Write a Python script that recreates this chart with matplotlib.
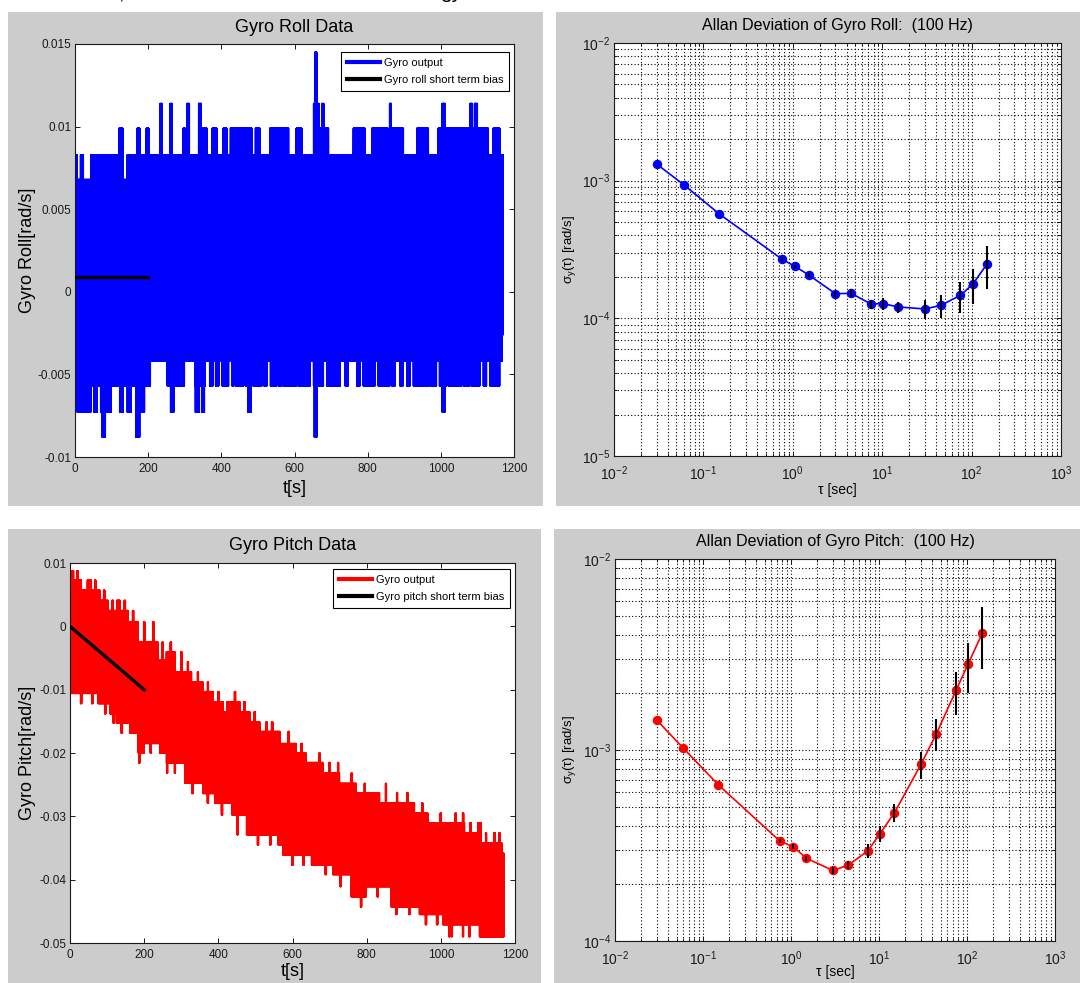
import numpy as np
import matplotlib
matplotlib.use("Agg")
import matplotlib.pyplot as plt
from matplotlib.patches import Rectangle
from matplotlib.ticker import FixedLocator, FuncFormatter, LogLocator, NullFormatter

plt.rcParams["font.family"] = ["Liberation Sans", "DejaVu Sans"]
plt.rcParams["mathtext.fontset"] = "custom"
plt.rcParams["mathtext.rm"] = "Liberation Sans"
plt.rcParams["mathtext.it"] = "Liberation Sans:italic"
plt.rcParams["mathtext.default"] = "regular"

# ---------------------------------------------------------------- data
# Roll rate record: envelope of the quantised samples (rad/s)
roll_t_end = 1170.0
roll_upper_base = 0.0083
roll_lower_base = -0.0042
roll_upper_runs = [
    (6, 15, 0.0068), (23, 44, 0.0068), (120, 131, 0.0099), (131, 143, 0.0068),
    (170, 177, 0.0099), (195, 202, 0.0099), (232, 238, 0.0114), (259, 265, 0.0114),
    (296, 302, 0.0099), (306, 313, 0.0114), (338, 345, 0.0114), (345, 361, 0.0099),
    (375, 388, 0.0099), (405, 415, 0.0099), (425, 484, 0.0099), (493, 506, 0.0099),
    (532, 584, 0.0099), (605, 620, 0.0099), (652, 655, 0.0114), (655, 661, 0.0145),
    (661, 667, 0.0114), (667, 675, 0.0099), (675, 680, 0.0114), (680, 693, 0.0099),
    (761, 793, 0.0099), (811, 856, 0.0099), (860, 865, 0.0114), (865, 898, 0.0099),
    (934, 966, 0.0099), (993, 1003, 0.0099), (1003, 1012, 0.0114), (1012, 1080, 0.0099),
    (1080, 1086, 0.0114), (1086, 1092, 0.0099), (1092, 1100, 0.0114), (1100, 1130, 0.0099),
    (1143, 1161, 0.0099),
]
roll_lower_runs = [
    (0, 206, -0.0057), (6, 43, -0.0073), (52, 61, -0.0073), (70, 99, -0.0073),
    (74, 83, -0.0088), (122, 132, -0.0073), (143, 153, -0.0073), (166, 177, -0.0088),
    (181, 190, -0.0073),
    (252, 261, -0.0057), (261, 270, -0.0073), (275, 299, -0.0057), (327, 338, -0.0057),
    (329, 340, -0.0073), (341, 356, -0.0057), (347, 354, -0.0073), (368, 377, -0.0057),
    (384, 393, -0.0057), (402, 420, -0.0057), (429, 434, -0.0057), (438, 461, -0.0057),
    (466, 484, -0.0057), (473, 481, -0.0073), (488, 511, -0.0057), (516, 525, -0.0057),
    (534, 552, -0.0057), (556, 566, -0.0057), (570, 607, -0.0057), (611, 643, -0.0057),
    (652, 663, -0.0057), (654, 661, -0.0088), (666, 679, -0.0057), (688, 725, -0.0057),
    (738, 747, -0.0057), (770, 779, -0.0057), (788, 820, -0.0057), (829, 861, -0.0057),
    (866, 875, -0.0057), (888, 897, -0.0057), (907, 916, -0.0057), (925, 966, -0.0057),
    (970, 988, -0.0057), (996, 1016, -0.0057), (1004, 1011, -0.0073), (1020, 1057, -0.0057),
    (1061, 1080, -0.0057), (1084, 1107, -0.0057), (1116, 1125, -0.0057), (1134, 1161, -0.0057),
    (1168, 1170, -0.0026),
]
roll_bias_t = [0, 200]
roll_bias = [0.0009, 0.0009]

# Pitch rate record: envelope as level runs plus isolated excursions (rad/s)
pitch_t_end = 1170.0
pitch_upper_runs = [
    (0, 10, 0.0088), (10, 31, 0.0073), (31, 47, 0.0057), (47, 58, 0.0073), (58, 81, 0.0057),
    (81, 103, 0.0041), (103, 126, 0.0025), (126, 135, 0.0041), (135, 157, 0.0025),
    (157, 184, 0.0007), (184, 238, -0.0025), (238, 260, -0.0053), (260, 283, -0.0040),
    (283, 328, -0.0072), (328, 359, -0.0088), (359, 386, -0.0103), (386, 413, -0.0119),
    (413, 431, -0.0135), (431, 458, -0.0119), (458, 485, -0.0135), (485, 512, -0.0151),
    (512, 566, -0.0166), (566, 610, -0.0185), (610, 637, -0.0200), (637, 682, -0.0215),
    (682, 727, -0.0232), (727, 772, -0.0248), (772, 835, -0.0263), (835, 929, -0.0279),
    (929, 965, -0.0295), (965, 1064, -0.0310), (1064, 1100, -0.0326), (1100, 1109, -0.0310),
    (1109, 1165, -0.0342), (1165, 1170, -0.0358),
]
pitch_lower_runs = [
    (0, 76, -0.0106), (76, 107, -0.0122), (107, 125, -0.0138), (125, 161, -0.0153),
    (161, 184, -0.0169), (184, 200, -0.0200), (200, 242, -0.0185), (242, 260, -0.0200),
    (260, 310, -0.0216), (310, 359, -0.0248), (359, 390, -0.0264), (390, 437, -0.0279),
    (437, 476, -0.0298), (476, 520, -0.0329), (520, 561, -0.0329), (561, 574, -0.0345),
    (574, 651, -0.0361), (651, 709, -0.0377), (709, 758, -0.0392), (758, 799, -0.0427),
    (799, 866, -0.0411), (866, 942, -0.0443), (942, 1005, -0.0455), (1005, 1104, -0.0471),
    (1104, 1170, -0.0490),
]
pitch_upper_spikes = [
    (20, 0.0088), (68, 0.0073), (92, 0.0057), (115, 0.0041), (148, 0.0041), (170, 0.0025),
    (200, 0.0007), (225, 0.0007), (250, -0.0025), (272, -0.0025), (300, -0.0040),
    (318, -0.0056), (345, -0.0072), (372, -0.0088), (400, -0.0103), (425, -0.0119),
    (445, -0.0103), (470, -0.0119), (498, -0.0135), (530, -0.0151), (545, -0.0151),
    (590, -0.0166), (625, -0.0185), (673, -0.0200), (700, -0.0215), (723, -0.0215),
    (760, -0.0232), (795, -0.0248), (852, -0.0248), (882, -0.0263), (910, -0.0263),
    (950, -0.0279), (1000, -0.0295), (1040, -0.0295), (1060, -0.0295), (1080, -0.0310),
    (1122, -0.0326), (1145, -0.0326), (1158, -0.0326),
]
pitch_lower_spikes = [
    (30, -0.0122), (60, -0.0122), (95, -0.0138), (118, -0.0153), (140, -0.0169),
    (187, -0.0216), (218, -0.0200), (262, -0.0232), (283, -0.0232), (330, -0.0264),
    (372, -0.0279), (410, -0.0298), (452, -0.0329), (507, -0.0345), (540, -0.0345),
    (600, -0.0377), (630, -0.0377), (690, -0.0392), (730, -0.0411), (785, -0.0443),
    (830, -0.0427), (880, -0.0455), (915, -0.0455), (960, -0.0471), (990, -0.0471),
    (1023, -0.0490), (1030, -0.0490), (1060, -0.0490), (1077, -0.0490),
]
pitch_bias_t = [0, 200]
pitch_bias = [0.0, -0.010]

# Allan deviation results
tau = [0.03, 0.06, 0.15, 0.75, 1.05, 1.5, 3, 4.5, 7.5, 10.2, 15, 30, 45, 75, 103, 150]
roll_adev = [1.32e-3, 9.37e-4, 5.74e-4, 2.70e-4, 2.39e-4, 2.07e-4, 1.51e-4, 1.52e-4,
             1.27e-4, 1.28e-4, 1.21e-4, 1.17e-4, 1.24e-4, 1.47e-4, 1.77e-4, 2.50e-4]
roll_err = [0, 0, 0, 0.07e-4, 0.07e-4, 0.07e-4, 0.08e-4, 0.10e-4,
            0.10e-4, 0.13e-4, 0.11e-4, 0.18e-4, 0.23e-4, 0.37e-4, 0.50e-4, 0.88e-4]
pitch_adev = [1.43e-3, 1.02e-3, 6.56e-4, 3.33e-4, 3.12e-4, 2.71e-4, 2.34e-4, 2.50e-4,
              2.97e-4, 3.63e-4, 4.70e-4, 8.41e-4, 1.22e-3, 2.05e-3, 2.82e-3, 4.11e-3]
pitch_err = [0, 0, 0, 0.08e-4, 0.09e-4, 0.09e-4, 0.11e-4, 0.13e-4,
             0.26e-4, 0.35e-4, 0.52e-4, 1.35e-4, 2.3e-4, 5.2e-4, 8.2e-4, 14.7e-4]

# ---------------------------------------------------------------- layout
W, H = 1080, 983
fig = plt.figure(figsize=(W / 100, H / 100), dpi=100)
fig.patch.set_facecolor("white")


def px_rect(x0, y0, x1, y1):
    """Pixel box (origin top-left) -> figure fraction [left, bottom, width, height]."""
    return [x0 / W, 1 - y1 / H, (x1 - x0) / W, (y1 - y0) / H]


for box in [(8, 12, 543, 506), (556, 12, 1080, 506), (8, 529, 541, 983), (554, 529, 1080, 983)]:
    l, b, w, h = px_rect(*box)
    fig.add_artist(Rectangle((l, b), w, h, transform=fig.transFigure,
                             facecolor="#cccccc", edgecolor="none", zorder=-5))

# descenders of the caption line above the figure
fig.text(121 / W, 1 + 1.5 / H, ",", fontsize=15, va="baseline", ha="center")
fig.text(451 / W, 1 + 1.5 / H, "gy", fontsize=15, va="baseline", ha="center")

ax_roll = fig.add_axes(px_rect(75, 44, 514, 457))
ax_aroll = fig.add_axes(px_rect(614, 43, 1061, 456))
ax_pitch = fig.add_axes(px_rect(70, 563, 515, 943))
ax_apitch = fig.add_axes(px_rect(615, 559, 1055, 941))

INK = "#1a1a1a"


def frame(ax):
    ax.set_facecolor("white")
    for s in ax.spines.values():
        s.set_color(INK)
        s.set_linewidth(0.8)
    ax.tick_params(which="both", direction="in", top=True, right=True,
                   color=INK, labelcolor=INK, width=0.7)
    ax.tick_params(which="major", length=3.6)
    ax.tick_params(which="minor", length=2.2)


def gformat(v, pos):
    s = "%g" % v
    return "0" if s in ("-0", "0") else s


def envelope(t, base, runs):
    env = np.full(t.size, base, dtype=float)
    for a, b, v in runs:
        env[(t >= a) & (t < b)] = v
    return env


def zigzag(t, upper, lower):
    return np.where(np.arange(t.size) % 2 == 0, upper, lower)


def time_panel(ax, t, y, color, bias_t, bias, bias_label, ylim, yticks, title, ylabel,
               ylab_x, xlab_y, legend_anchor):
    frame(ax)
    ax.plot(t, y, color=color, lw=1.0, label="Gyro output", zorder=2)
    ax.plot(bias_t, bias, color="black", lw=2.4, label=bias_label, zorder=3)
    ax.set_xlim(0, 1200)
    ax.set_ylim(*ylim)
    ax.xaxis.set_major_locator(FixedLocator(np.arange(0, 1201, 200)))
    ax.yaxis.set_major_locator(FixedLocator(yticks))
    ax.xaxis.set_major_formatter(FuncFormatter(gformat))
    ax.yaxis.set_major_formatter(FuncFormatter(gformat))
    ax.tick_params(which="major", labelsize=8.5, pad=4)
    ax.tick_params(axis="y", which="major", pad=2.5)
    ax.set_title(title, fontsize=13, pad=9, color="black")
    ax.set_xlabel("t[s]", fontsize=13, va="center")
    ax.xaxis.set_label_coords(0.5, xlab_y)
    ax.set_ylabel(ylabel, fontsize=13, va="center")
    ax.yaxis.set_label_coords(ylab_x, 0.5)
    leg = ax.legend(loc="upper right", bbox_to_anchor=legend_anchor, borderaxespad=0,
                    fontsize=8, frameon=True, fancybox=False, edgecolor="black",
                    framealpha=1, handlelength=3.0, handletextpad=0.35,
                    labelspacing=0.7, borderpad=0.5)
    leg.get_frame().set_linewidth(0.8)
    for ln in leg.get_lines():
        ln.set_linewidth(3.0)


def allan_panel(ax, tau_v, adev, err, color, ylim, title, ylab_x, xlab_y):
    frame(ax)
    ax.set_xscale("log")
    ax.set_yscale("log")
    ax.set_xlim(1e-2, 1e3)
    ax.set_ylim(*ylim)
    ax.xaxis.set_major_locator(LogLocator(base=10, numticks=12))
    ax.yaxis.set_major_locator(LogLocator(base=10, numticks=12))
    ax.xaxis.set_minor_locator(LogLocator(base=10, subs=np.arange(2, 10), numticks=12))
    ax.yaxis.set_minor_locator(LogLocator(base=10, subs=np.arange(2, 10), numticks=12))
    ax.xaxis.set_minor_formatter(NullFormatter())
    ax.yaxis.set_minor_formatter(NullFormatter())
    ax.tick_params(which="major", labelsize=10)
    ax.tick_params(axis="x", which="major", pad=6)
    ax.tick_params(axis="y", which="major", pad=3)
    ax.grid(True, which="both", color="black", linestyle=(0, (1, 2.0)), linewidth=0.8)
    ax.set_axisbelow(True)
    ax.plot(tau_v, adev, "-o", color=color, lw=1.2, ms=5.8, mec=color, mfc=color, zorder=3)
    ax.errorbar(tau_v, adev, yerr=err, fmt="none", ecolor="black", elinewidth=1.5,
                capsize=0, zorder=4)
    ax.set_title(title, fontsize=11.5, pad=9.5, color="black")
    ax.set_xlabel("\u03c4 [sec]", fontsize=10, va="center")
    ax.xaxis.set_label_coords(0.5, xlab_y)
    ax.set_ylabel(r"$\sigma_y(\tau)$ [rad/s]", fontsize=9.5, va="center")
    ax.yaxis.set_label_coords(ylab_x, 0.5)


# ---- roll time history
t_roll = np.arange(0.0, roll_t_end, 0.1)
u_roll = envelope(t_roll, roll_upper_base, roll_upper_runs)
l_roll = envelope(t_roll, roll_lower_base, roll_lower_runs)
time_panel(ax_roll, t_roll, zigzag(t_roll, u_roll, l_roll), "blue", roll_bias_t, roll_bias,
           "Gyro roll short term bias", (-0.01, 0.015),
           [-0.01, -0.005, 0, 0.005, 0.01, 0.015], "Gyro Roll Data", "Gyro Roll[rad/s]",
           -0.108, -0.076, (0.9886, 0.9806))

# ---- pitch time history
t_pitch = np.arange(0.0, pitch_t_end, 0.1)
u_pitch = envelope(t_pitch, pitch_upper_runs[0][2], pitch_upper_runs)
l_pitch = envelope(t_pitch, pitch_lower_runs[0][2], pitch_lower_runs)
for tc, v in pitch_upper_spikes:
    u_pitch[(t_pitch >= tc - 1.5) & (t_pitch < tc + 1.5)] = v
for tc, v in pitch_lower_spikes:
    l_pitch[(t_pitch >= tc - 1.5) & (t_pitch < tc + 1.5)] = v
time_panel(ax_pitch, t_pitch, zigzag(t_pitch, u_pitch, l_pitch), "red", pitch_bias_t,
           pitch_bias, "Gyro pitch short term bias", (-0.05, 0.01),
           [-0.05, -0.04, -0.03, -0.02, -0.01, 0, 0.01], "Gyro Pitch Data",
           "Gyro Pitch[rad/s]", -0.0955, -0.0755, (0.9888, 0.9842))

# ---- Allan deviations
allan_panel(ax_aroll, tau, roll_adev, roll_err, "blue", (1e-5, 1e-2),
            "Allan Deviation of Gyro Roll:  (100 Hz)", -0.100, -0.0823)
allan_panel(ax_apitch, tau, pitch_adev, pitch_err, "red", (1e-4, 1e-2),
            "Allan Deviation of Gyro Pitch:  (100 Hz)", -0.1045, -0.0804)

fig.savefig("out.png", dpi=100, facecolor="white")
